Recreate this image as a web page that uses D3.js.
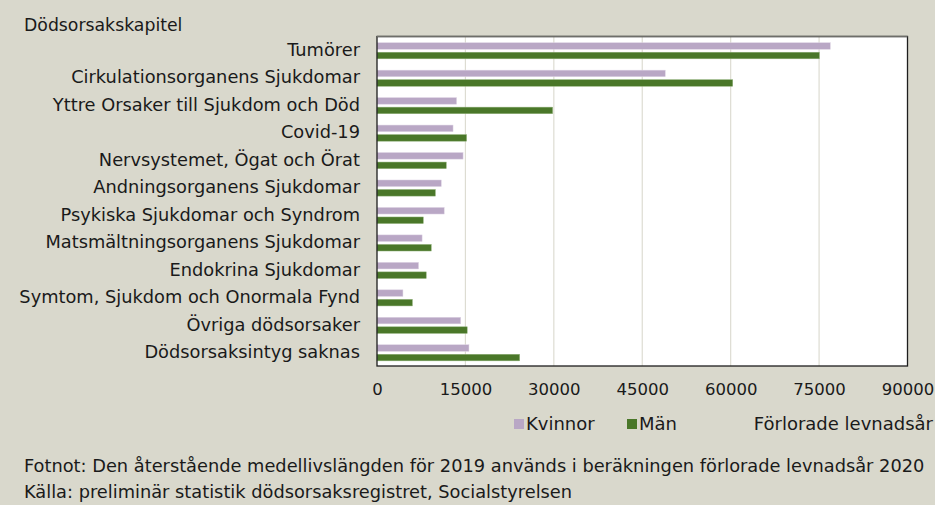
<!DOCTYPE html>
<html>
<head>
<meta charset="utf-8">
<script src="https://cdn.jsdelivr.net/npm/d3@7"></script>
<style>
  html, body { margin: 0; padding: 0; background: #d9d8cc; }
  svg text { font-family: "DejaVu Sans", sans-serif; fill: #1a1a1a; }
</style>
</head>
<body>
<div id="chart"></div>
<script>
// Förlorade levnadsår per dödsorsakskapitel, kvinnor och män
const categories = [
  "Tumörer",
  "Cirkulationsorganens Sjukdomar",
  "Yttre Orsaker till Sjukdom och Död",
  "Covid-19",
  "Nervsystemet, Ögat och Örat",
  "Andningsorganens Sjukdomar",
  "Psykiska Sjukdomar och Syndrom",
  "Matsmältningsorganens Sjukdomar",
  "Endokrina Sjukdomar",
  "Symtom, Sjukdom och Onormala Fynd",
  "Övriga dödsorsaker",
  "Dödsorsaksintyg saknas"
];
const kvinnor = [76900, 48900, 13500, 12900, 14600, 10900, 11400, 7650, 7050, 4400, 14200, 15600];
const man     = [75050, 60350, 29800, 15200, 11750, 9900, 7850, 9200, 8350, 6000, 15300, 24200];
const xTicks = [0, 15000, 30000, 45000, 60000, 75000, 90000];
const seriesNames = ["Kvinnor", "Män"];

const COLOR_K = "#b9a7c5";
const COLOR_M = "#4a7729";
const FONT = "'DejaVu Sans', sans-serif";

const width = 935, height = 505;
const plot = { left: 377, right: 907.5, top: 36.5, bottom: 366 };

const svg = d3.select("#chart").append("svg")
  .attr("width", width)
  .attr("height", height);

// plot area
svg.append("rect")
  .attr("x", plot.left).attr("y", plot.top)
  .attr("width", plot.right - plot.left)
  .attr("height", plot.bottom - plot.top)
  .attr("fill", "#ffffff");

const x = d3.scaleLinear().domain([0, 90000]).range([plot.left, plot.right]);
const y = d3.scaleBand().domain(categories).range([plot.top, plot.bottom]);
const sub = d3.scaleBand().domain(seriesNames).range([6.2, 22.3]).paddingInner(0.31);

// gridlines
svg.append("g")
  .selectAll("line")
  .data(xTicks.slice(1, -1))
  .join("line")
  .attr("x1", d => x(d)).attr("x2", d => x(d))
  .attr("y1", plot.top).attr("y2", plot.bottom)
  .attr("stroke", "#dddcd2")
  .attr("stroke-width", 1.2);

// bars
const rows = categories.map((c, i) => ({ cat: c, Kvinnor: kvinnor[i], "Män": man[i] }));
const colors = { Kvinnor: COLOR_K, "Män": COLOR_M };

seriesNames.forEach(s => {
  svg.append("g")
    .selectAll("rect")
    .data(rows)
    .join("rect")
    .attr("x", x(0))
    .attr("y", d => y(d.cat) + sub(s))
    .attr("width", d => x(d[s]) - x(0))
    .attr("height", sub.bandwidth())
    .attr("fill", colors[s])
    .attr("stroke", s === "Män" ? "#8fb078" : "#ddd3e3")
    .attr("stroke-width", 0.5);
});

// border: grey top edge, dark sides and bottom
svg.append("rect")
  .attr("x", plot.left).attr("y", plot.top)
  .attr("width", plot.right - plot.left)
  .attr("height", plot.bottom - plot.top)
  .attr("fill", "none")
  .attr("stroke", "#1e1e1e")
  .attr("stroke-width", 1.3);
svg.append("line")
  .attr("x1", plot.left).attr("x2", plot.right)
  .attr("y1", plot.top).attr("y2", plot.top)
  .attr("stroke", "#6e6e6a")
  .attr("stroke-width", 1.6);

// x tick labels
svg.append("g")
  .attr("transform", `translate(0, ${plot.bottom})`)
  .call(d3.axisBottom(x).tickValues(xTicks).tickSize(0).tickPadding(17).tickFormat(d3.format("d")))
  .call(g => g.select(".domain").remove())
  .selectAll("text")
  .style("font-family", FONT)
  .style("font-size", "16.5px")
  .attr("fill", "#1a1a1a");

// category labels
svg.append("g")
  .attr("transform", `translate(${plot.left}, 0)`)
  .call(d3.axisLeft(y).tickSize(0).tickPadding(17))
  .call(g => g.select(".domain").remove())
  .selectAll("text")
  .style("font-family", FONT)
  .style("font-size", "17.8px")
  .attr("fill", "#1a1a1a");

// axis title
svg.append("text")
  .attr("x", 24).attr("y", 31)
  .style("font-size", "17.3px")
  .text("Dödsorsakskapitel");

// legend
const legend = [
  { label: "Kvinnor", color: COLOR_K, x: 514 },
  { label: "Män", color: COLOR_M, x: 627 }
];
legend.forEach(l => {
  svg.append("rect")
    .attr("x", l.x).attr("y", 419)
    .attr("width", 10).attr("height", 10)
    .attr("fill", l.color);
  svg.append("text")
    .attr("x", l.x + 12).attr("y", 430)
    .style("font-size", "18px")
    .text(l.label);
});

svg.append("text")
  .attr("x", 933).attr("y", 430)
  .attr("text-anchor", "end")
  .style("font-size", "18px")
  .text("Förlorade levnadsår");

// footnotes
svg.append("text")
  .attr("x", 24).attr("y", 472)
  .style("font-size", "17.8px")
  .text("Fotnot: Den återstående medellivslängden för 2019 används i beräkningen förlorade levnadsår 2020");

svg.append("text")
  .attr("x", 24).attr("y", 498)
  .style("font-size", "17.8px")
  .text("Källa: preliminär statistik dödsorsaksregistret, Socialstyrelsen");
</script>
</body>
</html>
